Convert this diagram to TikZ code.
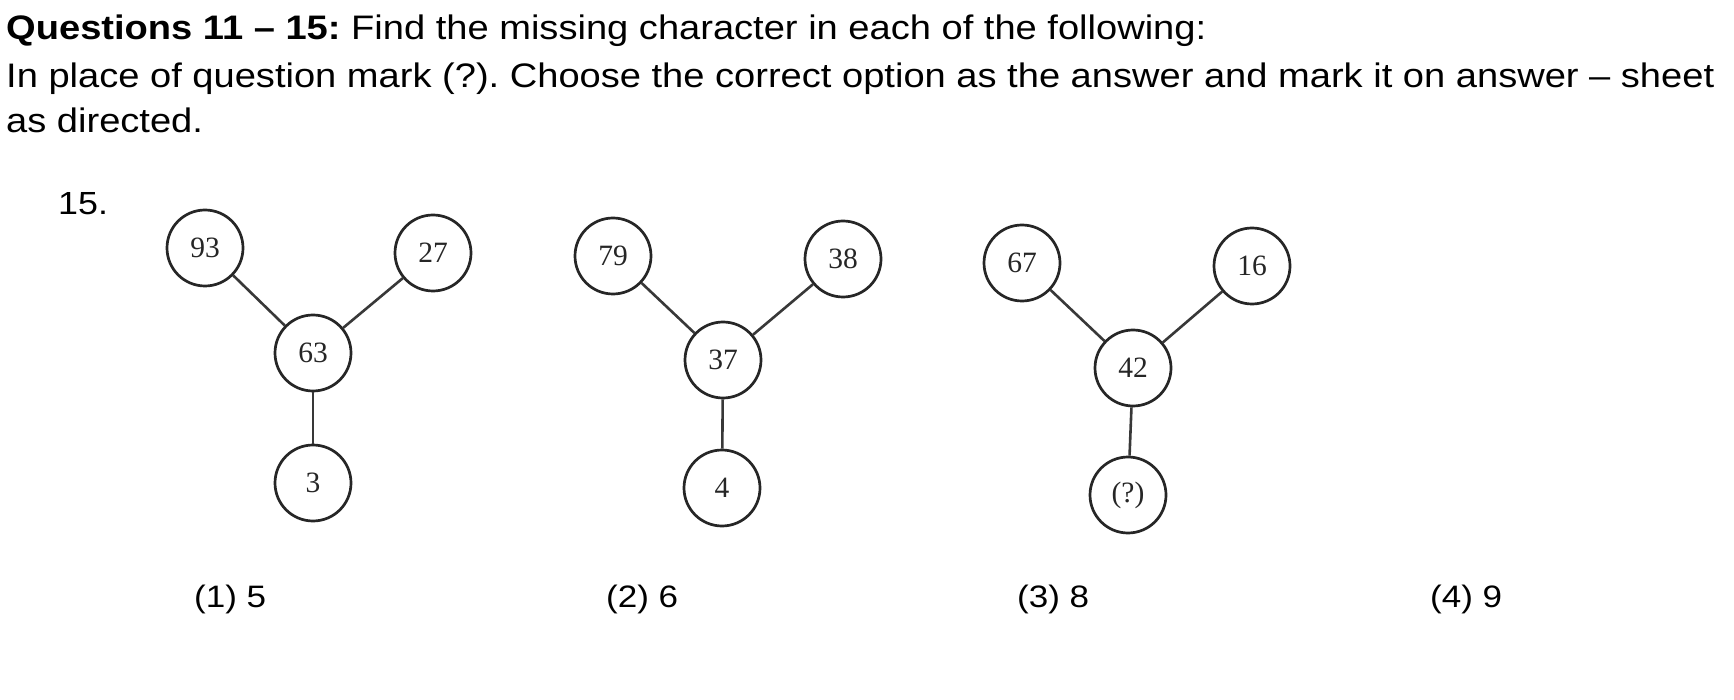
\documentclass[tikz,border=0pt]{standalone}
\usepackage{fontspec}
\setmainfont{Liberation Sans}
\newfontfamily\numfont{Liberation Serif}
\frenchspacing
\newcommand{\wide}[2]{\scalebox{#1}[1]{#2}}
\begin{document}
\begin{tikzpicture}[x=1pt,y=-1pt,
  bub/.style={circle,draw=black!85,line width=2.7pt,minimum size=76pt,inner sep=0pt,font=\numfont\fontsize{29.5}{29.5}\selectfont,text=black!85},
  conn/.style={draw=black!78,line width=2.6pt},
  hdr/.style={anchor=base west,inner sep=0pt,font=\fontsize{34}{34}\selectfont},
  opt/.style={anchor=base west,inner sep=0pt,font=\fontsize{31}{31}\selectfont}]
\useasboundingbox (0,0) rectangle (1734,700);
\fill[white] (0,0) rectangle (1734,700);
% header
\node[hdr] (h1) at (6,40) {\wide{1.12}{\textbf{Questions 11 – 15:} Find the missing character in each of the following:}};
\node[hdr] (h2) at (6,88) {\wide{1.12}{In place of question mark (?). Choose the correct option as the answer and mark it on answer – sheet}};
\node[hdr] (h3) at (6,133) {\wide{1.12}{as directed.}};
\node[opt,font=\fontsize{32}{32}\selectfont] (qn) at (58,215) {\wide{1.12}{15.}};
% figure 1
\node[bub] (a1) at (205,248) {93};
\node[bub] (a2) at (433,253) {27};
\node[bub] (a0) at (313,353) {63};
\node[bub] (a3) at (313,483) {3};
\draw[conn] (a1) -- (a0);
\draw[conn] (a2) -- (a0);
\draw[conn] (a0) -- (a3);
% figure 2
\node[bub] (b1) at (613,256) {79};
\node[bub] (b2) at (843,259) {38};
\node[bub] (b0) at (723,360) {37};
\node[bub] (b3) at (722,488) {4};
\draw[conn] (b1) -- (b0);
\draw[conn] (b2) -- (b0);
\draw[conn] (b0) -- (b3);
% figure 3
\node[bub] (c1) at (1022,263) {67};
\node[bub] (c2) at (1252,266) {16};
\node[bub] (c0) at (1133,368) {42};
\node[bub] (c3) at (1128,495) {(?)};
\draw[conn] (c1) -- (c0);
\draw[conn] (c2) -- (c0);
\draw[conn] (c0) -- (c3);
% options
\node[opt] (o1) at (194,607) {\wide{1.13}{(1) 5}};
\node[opt] (o2) at (606,607) {\wide{1.13}{(2) 6}};
\node[opt] (o3) at (1017,607) {\wide{1.13}{(3) 8}};
\node[opt] (o4) at (1430,607) {\wide{1.13}{(4) 9}};
\end{tikzpicture}
\end{document}
